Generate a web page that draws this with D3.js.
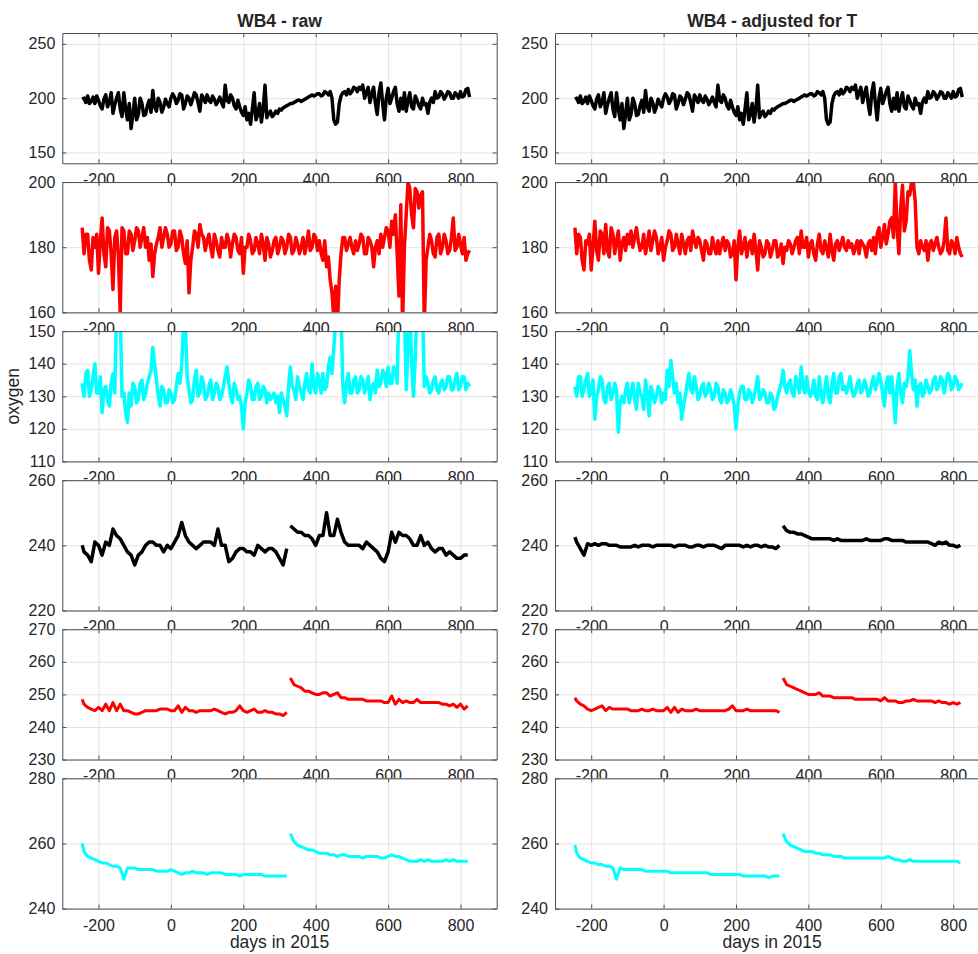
<!DOCTYPE html>
<html>
<head>
<meta charset="utf-8">
<script src="https://cdn.jsdelivr.net/npm/d3@7"></script>
<style>
  body { margin: 0; background: #fff; }
  text { font-family: "Liberation Sans", Arial, Helvetica, sans-serif; fill: #262626; }
</style>
</head>
<body>
<svg id="fig" width="978" height="954"></svg>
<script>
// noisy rows are read every 5 days, the smooth rows every 10 days
const days5 = d3.range(-245, 826, 5);
const days10 = [-245].concat(d3.range(-240, 821, 10));

// top row - same in both columns
const rawTop = [
  199, 200, 196, 202, 195, 197, 201, 195, 202, 198, 193, 190, 199, 203, 192, 196, 205, 186, 194, 200,
  205, 190, 183, 205, 190, 180, 195, 172, 185, 200, 180, 185, 200, 195, 184, 185, 193, 198, 187, 207,
  192, 188, 200, 196, 187, 192, 199, 195, 192, 200, 204, 201, 195, 198, 204, 203, 190, 195, 202, 200,
  194, 199, 205, 203, 196, 188, 203, 200, 196, 203, 198, 196, 202, 199, 194, 197, 201, 196, 192, 212,
  198, 196, 203, 200, 193, 190, 198, 192, 187, 184, 192, 180, 186, 176, 190, 205, 180, 185, 195, 178,
  190, 212, 182, 186, 188, 183, 185, 188, 186, 190, 189, 191, 192, 193, 194, 195, 195, 196, 197, 198,
  198, 197, 198, 199, 200, 201, 202, 203, 202, 203, 204, 204, 202, 203, 206, 205, 203, 206, 200, 180,
  176, 178, 195, 202, 205, 206, 203, 208, 204, 206, 210, 209, 206, 210, 208, 212, 200, 205, 210, 196,
  204, 210, 195, 185, 205, 214, 195, 180, 200, 209, 195, 200, 206, 210, 195, 188, 200, 190, 205, 188,
  198, 205, 192, 190, 202, 198, 193, 190, 200, 194, 195, 186, 196, 200, 196, 206, 200, 201, 206, 204,
  199, 202, 206, 205, 200, 200, 205, 203, 200, 206, 201, 202, 208, 209, 201];
const adjTop = rawTop;

const rawRed1 = [
  186, 178, 184, 184, 176, 173, 183, 180, 184, 172, 182, 189, 178, 174, 186, 185, 178, 167, 183, 185,
  177, 160, 186, 185, 178, 178, 185, 184, 179, 182, 186, 185, 180, 183, 186, 180, 183, 176, 181, 171,
  178, 181, 183, 186, 180, 183, 186, 184, 180, 181, 185, 185, 179, 180, 185, 183, 178, 175, 182, 166,
  176, 180, 185, 184, 180, 187, 184, 183, 179, 182, 184, 180, 177, 184, 182, 179, 177, 183, 180, 180,
  184, 182, 177, 181, 184, 183, 179, 178, 183, 172, 180, 180, 184, 182, 178, 179, 183, 181, 178, 184,
  181, 176, 183, 181, 177, 179, 182, 183, 178, 180, 183, 182, 178, 180, 184, 183, 178, 179, 183, 181,
  178, 180, 183, 178, 181, 185, 179, 180, 184, 183, 179, 182, 178, 176, 182, 174, 177, 170, 166, 158,
  168, 156, 170, 178, 183, 183, 179, 181, 183, 180, 178, 182, 179, 181, 184, 183, 178, 178, 183, 182,
  180, 174, 180, 182, 178, 184, 180, 183, 186, 185, 180, 188, 184, 190, 178, 165, 193, 156, 180, 190,
  200, 198, 190, 186, 198, 197, 192, 196, 197, 156, 176, 180, 184, 182, 178, 177, 183, 184, 178, 180,
  184, 182, 178, 179, 183, 189, 179, 180, 184, 181, 178, 183, 176, 178, 179];
const adjRed1 = [
  186, 178, 184, 183, 176, 173, 182, 181, 184, 173, 180, 188, 179, 176, 185, 184, 178, 187, 179, 177,
  186, 184, 178, 182, 185, 176, 181, 183, 179, 184, 181, 185, 180, 183, 186, 182, 179, 180, 184, 178,
  181, 185, 179, 182, 185, 183, 178, 180, 183, 176, 180, 182, 185, 184, 179, 180, 184, 181, 178, 184,
  181, 178, 182, 183, 179, 185, 182, 180, 183, 182, 179, 176, 182, 181, 178, 178, 183, 180, 178, 182,
  178, 181, 183, 179, 182, 181, 177, 178, 182, 170, 180, 185, 178, 180, 183, 177, 181, 182, 178, 184,
  179, 173, 182, 180, 177, 178, 182, 181, 177, 179, 182, 182, 177, 178, 181, 175, 180, 179, 182, 181,
  178, 180, 182, 183, 178, 185, 180, 180, 183, 177, 181, 182, 178, 176, 181, 184, 179, 178, 182, 180,
  177, 184, 179, 176, 181, 182, 179, 181, 183, 180, 179, 182, 180, 181, 178, 180, 182, 178, 182, 181,
  180, 177, 181, 182, 179, 183, 178, 184, 186, 180, 183, 187, 181, 184, 188, 189, 183, 200, 186, 178,
  192, 199, 185, 188, 197, 196, 200, 200, 194, 180, 178, 182, 180, 179, 182, 176, 181, 182, 179, 181,
  183, 180, 178, 179, 182, 189, 179, 178, 182, 181, 178, 183, 180, 178, 177];

const rawCyan1 = [
  134, 130, 137, 138, 130, 132, 136, 140, 131, 131, 136, 125, 132, 133, 129, 127, 134, 137, 131, 158,
  158, 156, 130, 131, 125, 122, 131, 127, 134, 133, 128, 129, 134, 135, 129, 131, 134, 136, 138, 145,
  140, 135, 130, 127, 133, 132, 128, 128, 132, 131, 128, 129, 133, 137, 134, 140, 152, 152, 136, 132,
  128, 129, 135, 138, 130, 131, 136, 134, 129, 130, 133, 135, 129, 131, 134, 133, 129, 130, 133, 136,
  139, 134, 130, 128, 134, 132, 129, 130, 127, 120, 128, 131, 135, 133, 129, 129, 133, 134, 129, 130,
  133, 132, 128, 131, 129, 130, 131, 128, 130, 125, 131, 129, 127, 124, 133, 139, 133, 132, 129, 136,
  133, 131, 129, 134, 137, 132, 131, 140, 133, 131, 137, 135, 131, 137, 132, 133, 139, 142, 137, 145,
  152, 158, 158, 156, 133, 128, 134, 137, 131, 131, 135, 136, 131, 132, 136, 135, 131, 133, 136, 129,
  133, 134, 131, 138, 133, 134, 138, 137, 133, 139, 134, 134, 139, 138, 134, 158, 158, 156, 158, 132,
  145, 158, 140, 130, 142, 158, 158, 157, 158, 133, 136, 134, 131, 132, 135, 136, 132, 131, 134, 135,
  132, 133, 136, 136, 132, 132, 135, 137, 132, 133, 136, 136, 132, 134, 133];
const adjCyan1 = [
  133, 130, 136, 136, 130, 132, 135, 137, 130, 131, 135, 123, 130, 132, 136, 135, 129, 128, 133, 134,
  129, 131, 134, 132, 119, 128, 130, 128, 132, 134, 128, 131, 134, 129, 126, 134, 131, 130, 126, 135,
  131, 124, 133, 131, 128, 130, 133, 132, 128, 131, 129, 138, 133, 141, 136, 131, 134, 128, 131, 123,
  127, 130, 134, 137, 132, 131, 136, 133, 129, 130, 133, 134, 130, 131, 134, 132, 129, 130, 134, 133,
  129, 128, 132, 131, 128, 129, 132, 130, 127, 120, 127, 131, 133, 133, 129, 129, 132, 131, 128, 130,
  133, 136, 129, 130, 132, 131, 128, 128, 131, 130, 126, 127, 130, 132, 134, 138, 133, 131, 134, 135,
  131, 130, 136, 134, 131, 139, 133, 131, 136, 132, 130, 131, 135, 130, 129, 136, 131, 128, 132, 136,
  130, 128, 134, 137, 131, 131, 136, 137, 132, 133, 131, 133, 136, 132, 130, 131, 134, 135, 131, 132,
  135, 133, 130, 131, 134, 136, 132, 134, 137, 135, 131, 127, 134, 136, 131, 136, 130, 122, 133, 137,
  131, 128, 134, 133, 136, 144, 137, 132, 135, 127, 133, 134, 130, 131, 135, 133, 131, 132, 135, 136,
  132, 133, 136, 135, 131, 134, 137, 136, 132, 133, 136, 135, 132, 133, 134];

// lower three rows have a break between day 320 and 330
const rawBlack2 = [240,
  238, 237, 235, 241, 240, 237, 241, 240, 245, 243,
  242, 240, 238, 237, 234, 237, 238, 240, 241, 241,
  240, 240, 238, 240, 239, 241, 243, 247, 243, 241,
  240, 239, 240, 241, 241, 241, 240, 245, 240, 240,
  235, 236, 238, 239, 239, 238, 238, 237, 240, 239,
  238, 239, 239, 238, 236, 234, 239, 246, 245, 244,
  244, 243, 243, 242, 240, 243, 243, 250, 243, 243,
  248, 244, 241, 240, 240, 240, 240, 239, 241, 240,
  239, 238, 236, 235, 238, 244, 241, 244, 243, 243,
  242, 240, 240, 243, 240, 241, 239, 238, 239, 239,
  237, 238, 237, 236, 236, 237, 237];
const adjBlack2 = [242.5,
  241, 239, 237, 240.5, 240, 240.5, 240, 240.5, 240.5, 240,
  240, 240, 239.5, 239.5, 239.5, 239.5, 240, 239.5, 240, 240,
  240, 239.5, 240, 240, 240, 240, 240, 239.5, 240, 240,
  240, 239.5, 239.5, 240, 240, 239.5, 240, 240, 240, 239.5,
  239, 240, 240, 240, 240, 240, 239.5, 240, 239.5, 240,
  240, 239.5, 240, 239.5, 239.5, 239, 240, 246, 244.5, 244,
  244, 243.5, 243.5, 243, 242.5, 242, 242, 242, 242, 242,
  242, 241.5, 242, 241.5, 241.5, 241.5, 241.5, 241.5, 241.5, 241.5,
  242, 241.5, 241.5, 241.5, 241.5, 242, 242, 241.5, 241.5, 241.5,
  241.5, 241, 241, 241, 241, 241, 241, 241, 240.5, 240,
  241, 240.5, 241, 240, 240, 239.5, 240];

const rawRed2 = [248.5,
  247, 246, 245.5, 245, 246, 245, 247, 245, 247.5, 245,
  247, 245, 245, 244.5, 244, 244, 244.5, 245, 245, 245,
  245, 245.5, 245.5, 245.5, 245, 245, 246.5, 244.5, 246, 245,
  245, 244.5, 245, 245, 245, 245, 245.5, 245, 244.5, 244,
  244.5, 244.5, 245, 246.5, 245, 244.5, 245, 245.5, 244.5, 244.5,
  245, 244.5, 244.5, 244, 244, 243.5, 244.5, 255, 253, 252.5,
  252, 251, 251, 250.5, 250, 250, 250.5, 250.5, 249.5, 250,
  250.5, 249, 249, 248.5, 248.5, 248.5, 248.5, 248.5, 248, 248,
  248, 248, 248, 247.5, 247.5, 249.5, 247, 248.5, 247.5, 248,
  247.5, 247.5, 248.5, 247.5, 247.5, 247.5, 247.5, 247.5, 247.5, 247,
  247, 246.5, 247, 246, 247, 245.5, 246.5];
const adjRed2 = [249,
  248, 247, 246.5, 245.5, 245, 245.5, 246, 246.5, 245, 246,
  245.5, 245.5, 245.5, 245.5, 245.5, 245, 245, 245, 245.5, 245,
  245, 245.5, 245, 245, 245, 246, 244.5, 246, 244.5, 245.5,
  245, 245, 245, 245.5, 245, 245, 245, 245, 245, 245,
  245, 245, 245.5, 246.5, 245, 245, 245, 245.5, 245, 245,
  245, 245, 245, 245, 245, 245, 244.5, 255, 253, 252.5,
  252, 251.5, 251, 250.5, 250, 250, 250, 250.5, 249.5, 249.5,
  249.5, 249, 249, 249, 249, 249, 249, 248.5, 248.5, 248.5,
  248.5, 248.5, 248.5, 248.5, 248, 249, 248, 248, 248, 247.5,
  247.5, 248, 248, 248.5, 248, 248, 248, 248, 248, 247.5,
  248, 247.5, 247.5, 247, 247.5, 247, 247.5];

const rawCyan2 = [260,
  257.5, 256, 255.5, 255, 254.5, 254, 254, 253.5, 253, 253,
  252.5, 249, 252.5, 252.5, 252.5, 252, 252, 252, 252, 252,
  251.5, 251.5, 251.5, 251.5, 252, 251.5, 251, 250.5, 251, 251,
  251.5, 251, 251, 251, 250.5, 251, 251, 251, 251, 250.5,
  250.5, 250.5, 250.5, 250, 250.5, 250.5, 250.5, 250.5, 250.5, 250.5,
  250, 250, 250, 250, 250, 250, 250, 263, 260.5, 259.5,
  259, 258.5, 258, 258, 257.5, 257, 257, 257, 256.5, 256.5,
  256, 256.5, 256.5, 256, 256, 256, 256, 255.5, 256, 256,
  256, 256, 255.5, 255.5, 256, 256.5, 256, 256, 255.5, 255,
  254.5, 254.5, 254.5, 255, 254.5, 255, 254.5, 254.5, 254.5, 254.5,
  255, 254.5, 255, 254.5, 254.5, 254.5, 254.5];
const adjCyan2 = [259.5,
  257, 255.5, 255, 254.5, 254, 254, 253.5, 253.5, 253, 253,
  252.5, 249, 252.5, 252, 252, 252, 252, 252, 252, 251.5,
  251.5, 251.5, 251.5, 251.5, 251.5, 251.5, 251, 251, 251, 251,
  251, 251, 251, 251, 251, 251, 251, 250.5, 250.5, 250.5,
  250.5, 250.5, 250.5, 250.5, 250.5, 250.5, 250, 250, 250, 250,
  250, 250, 250, 249.5, 250, 250, 250, 263, 260.5, 259.5,
  259, 258.5, 258, 257.5, 257.5, 257.5, 257, 257, 256.5, 256.5,
  256.5, 256, 256, 256, 255.5, 255.5, 255.5, 255.5, 255.5, 255.5,
  255.5, 255.5, 255.5, 255.5, 255.5, 255.5, 256, 255.5, 255, 255,
  254.5, 254.5, 255, 254.5, 254.5, 254.5, 254.5, 254.5, 254.5, 254.5,
  254.5, 254.5, 254.5, 254.5, 254.5, 254.5, 254];

// axis limits / ticks per row
const xTicks = [-200, 0, 200, 400, 600, 800];
const yDomains = [[140, 260], [160, 200], [110, 150], [220, 260], [230, 270], [240, 280]];
const yTicks = [[150, 200, 250], [160, 180, 200], [110, 120, 130, 140, 150],
                [220, 240, 260], [230, 240, 250, 260, 270], [240, 260, 280]];
const rowColors = ["#000000", "#ff0000", "#00ffff", "#000000", "#ff0000", "#00ffff"];
const rowWidths = [3.5, 3.5, 3.5, 3.5, 3, 3];
const rowDays = [days5, days5, days5, days10, days10, days10];
const rawSeries = [rawTop, rawRed1, rawCyan1, rawBlack2, rawRed2, rawCyan2];
const adjSeries = [adjTop, adjRed1, adjCyan1, adjBlack2, adjRed2, adjCyan2];
const titles = ["WB4 - raw", "WB4 - adjusted for T"];

const svg = d3.select("#fig");
const colLeft = [62.3, 555];
const axW = 434.4, axH = 130.3, top0 = 33, rowStep = 149.06;
const x = d3.scaleLinear().domain([-300, 900]).range([0, axW]);
const fmt = d => String(d);   // plain hyphen, like the original

function drawPanel(col, row, values) {
  const g = svg.append("g")
    .attr("transform", `translate(${colLeft[col]},${top0 + row * rowStep})`);
  const y = d3.scaleLinear().domain(yDomains[row]).range([axH, 0]);
  const id = `clip${col}${row}`;

  g.append("rect").attr("width", axW).attr("height", axH).attr("fill", "#fff");
  g.append("clipPath").attr("id", id)
    .append("rect").attr("width", axW).attr("height", axH);

  // grid
  const gx = g.append("g").call(d3.axisBottom(x).tickValues(xTicks).tickSize(axH).tickFormat(""));
  const gy = g.append("g").call(d3.axisLeft(y).tickValues(yTicks[row]).tickSize(-axW).tickFormat(""));
  [gx, gy].forEach(a => {
    a.select(".domain").remove();
    a.selectAll("line").attr("stroke", "#e3e3e3");
  });

  // data, with a break after day 320 in the lower rows
  const pts = rowDays[row].map((d, i) => [d, values[i]]);
  const segs = row >= 3 ? [pts.filter(p => p[0] <= 320), pts.filter(p => p[0] >= 330)] : [pts];
  const line = d3.line().x(p => x(p[0])).y(p => y(p[1]));
  g.append("g").attr("clip-path", `url(#${id})`)
    .selectAll("path").data(segs).join("path")
    .attr("d", line)
    .attr("fill", "none")
    .attr("stroke", rowColors[row])
    .attr("stroke-width", rowWidths[row])
    .attr("stroke-linejoin", "round");

  // box axes, ticks inside
  const axes = [
    g.append("g").attr("transform", `translate(0,${axH})`)
      .call(d3.axisBottom(x).tickValues(xTicks).tickFormat(fmt).tickSizeInner(-4).tickSizeOuter(0).tickPadding(10.6)),
    g.append("g")
      .call(d3.axisLeft(y).tickValues(yTicks[row]).tickFormat(fmt).tickSizeInner(-4).tickSizeOuter(0).tickPadding(7)),
    g.append("g")
      .call(d3.axisTop(x).tickValues(xTicks).tickSizeInner(-4).tickSizeOuter(0).tickFormat("")),
    g.append("g").attr("transform", `translate(${axW},0)`)
      .call(d3.axisRight(y).tickValues(yTicks[row]).tickSizeInner(-4).tickSizeOuter(0).tickFormat(""))
  ];
  axes.forEach(a => {
    a.attr("font-size", null).attr("font-family", null);
    a.select(".domain").attr("stroke", "#4d4d4d");
    a.selectAll(".tick line").attr("stroke", "#4d4d4d");
    a.selectAll(".tick text").attr("fill", "#262626").style("font-size", "16px");
  });
}

for (let row = 0; row < 6; row++) {
  drawPanel(0, row, rawSeries[row]);
  drawPanel(1, row, adjSeries[row]);
}

titles.forEach((t, col) => {
  svg.append("text")
    .attr("x", colLeft[col] + axW / 2).attr("y", 27)
    .attr("text-anchor", "middle")
    .style("font-size", "17.5px").style("font-weight", "bold")
    .text(t);
  svg.append("text")
    .attr("x", colLeft[col] + axW / 2).attr("y", 948)
    .attr("text-anchor", "middle")
    .style("font-size", "17.5px")
    .text("days in 2015");
});

svg.append("text")
  .attr("transform", `translate(19,${top0 + 2 * rowStep + axH / 2}) rotate(-90)`)
  .attr("text-anchor", "middle")
  .style("font-size", "17.5px")
  .text("oxygen");
</script>
</body>
</html>
